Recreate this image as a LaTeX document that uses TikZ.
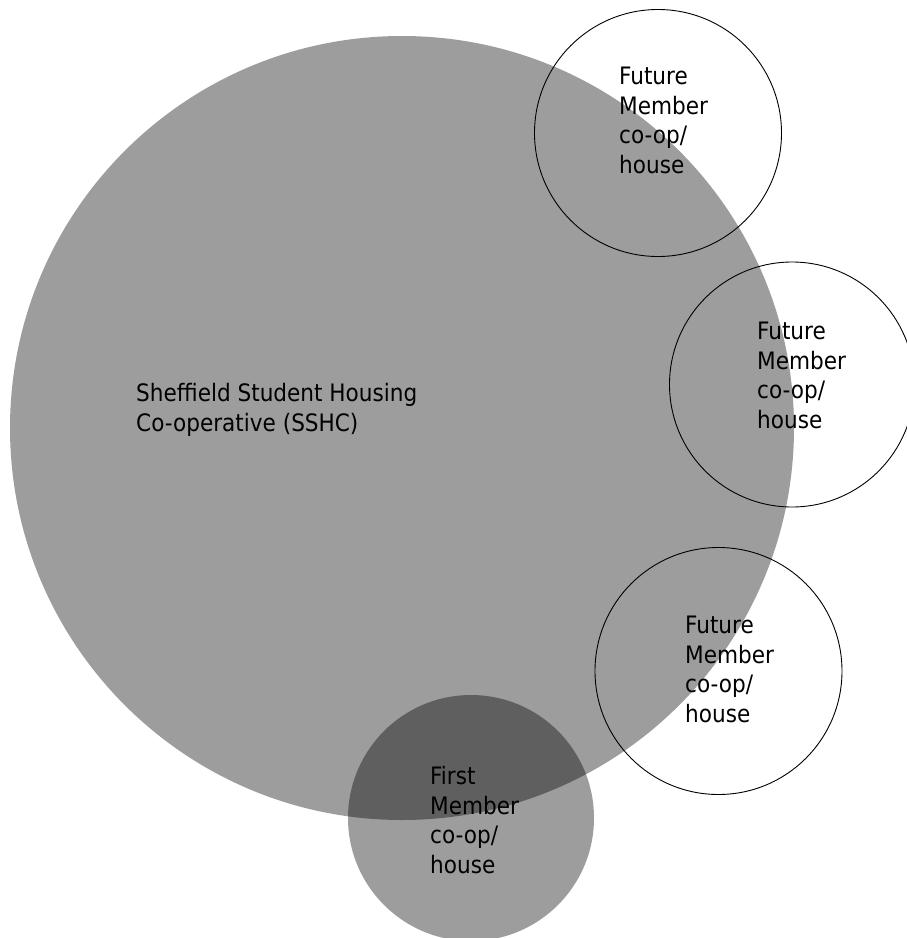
\documentclass[tikz,border=0pt]{standalone}
\usepackage{fontspec}
\setmainfont{DejaVu Sans Condensed}
\begin{document}
\begin{tikzpicture}[x=1pt,y=-1pt,
  biggray/.style={fill=gray1,draw=none},
  future/.style={draw=black,line width=0.9pt,fill=none},
  lbl/.style={anchor=base west,inner sep=0pt,align=left,font=\fontsize{24}{29.4}\selectfont}]
\definecolor{gray1}{HTML}{9D9D9D}
\definecolor{gray2}{HTML}{5F5F5F}
\useasboundingbox[fill=white] (0,0) rectangle (906,938);
% big circle
\fill[biggray] (402,428) circle[radius=392];
% first member circle
\fill[biggray] (471,818) circle[radius=123];
\begin{scope}
  \clip (402,428) circle[radius=392];
  \fill[gray2] (471,818) circle[radius=123];
\end{scope}
% future member circles
\draw[future] (658,133) circle[radius=123.5];
\draw[future] (792,384.5) circle[radius=122.5];
\draw[future] (718.5,671) circle[radius=123.5];
% labels (base anchor = baseline of last line)
\node[lbl] (sshc) at (136,431) {Sheffield Student Housing\\Co-operative (SSHC)};
\node[lbl] (f1) at (619,173) {Future\\Member\\co-op/\\house};
\node[lbl] (f2) at (757,428) {Future\\Member\\co-op/\\house};
\node[lbl] (f3) at (685,722) {Future\\Member\\co-op/\\house};
\node[lbl] (first) at (430,873) {First\\Member\\co-op/\\house};
\end{tikzpicture}
\end{document}
